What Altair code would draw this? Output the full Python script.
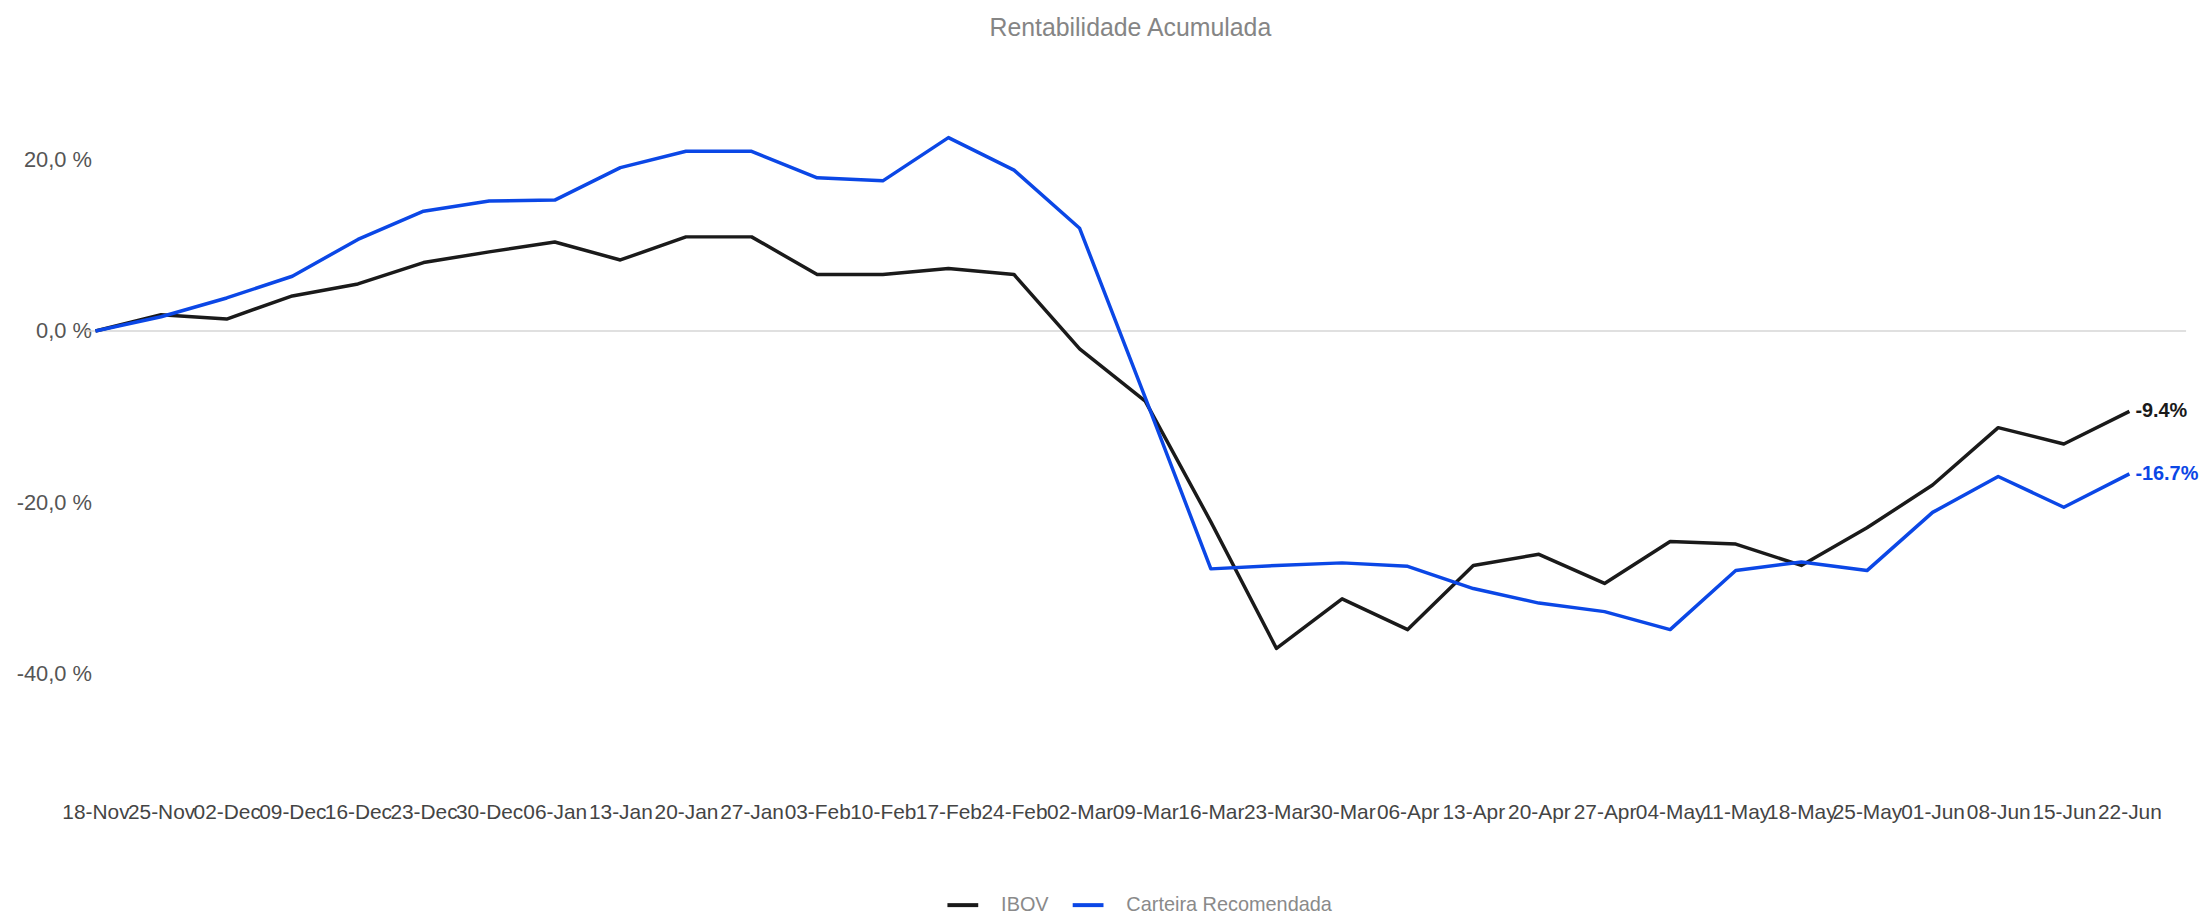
import altair as alt
import pandas as pd

# ---- data ----
dates = ["18-Nov", "25-Nov", "02-Dec", "09-Dec", "16-Dec", "23-Dec", "30-Dec",
         "06-Jan", "13-Jan", "20-Jan", "27-Jan", "03-Feb", "10-Feb", "17-Feb",
         "24-Feb", "02-Mar", "09-Mar", "16-Mar", "23-Mar", "30-Mar", "06-Apr",
         "13-Apr", "20-Apr", "27-Apr", "04-May", "11-May", "18-May", "25-May",
         "01-Jun", "08-Jun", "15-Jun", "22-Jun"]

ibov = [0.0, 1.9, 1.4, 4.1, 5.5, 8.0, 9.25, 10.4, 8.3, 11.0, 11.0, 6.6, 6.6, 7.3,
        6.6, -2.1, -8.2, -22.3, -37.1, -31.3, -34.9, -27.4, -26.1, -29.5, -24.6,
        -24.9, -27.4, -23.0, -18.0, -11.3, -13.2, -9.4]

carteira = [0.0, 1.66, 3.86, 6.4, 10.7, 14.0, 15.2, 15.3, 19.1, 21.0, 21.0, 17.9,
            17.55, 22.6, 18.8, 12.0, -7.8, -27.8, -27.4, -27.1, -27.5, -30.1, -31.8,
            -32.8, -34.9, -28.0, -27.0, -28.0, -21.2, -17.0, -20.6, -16.7]

series_names = ["IBOV", "Carteira Recomendada"]
series_colors = ["#1a1a1a", "#0b47e6"]
y_ticks = [-40, -20, 0, 20]

rows = []
for d, v in zip(dates, ibov):
    rows.append({"date": d, "serie": series_names[0], "value": v})
for d, v in zip(dates, carteira):
    rows.append({"date": d, "serie": series_names[1], "value": v})
df = pd.DataFrame(rows)

last = df[df["date"] == dates[-1]].copy()
last["label"] = last["value"].map(lambda v: f"{v:.1f}%")

W = 2046
H = 723
FONT = "Liberation Sans"

x_enc = alt.X("date:O", sort=dates,
              scale=alt.Scale(type="point", padding=0),
              axis=alt.Axis(title=None, labelAngle=0, ticks=False, domain=False,
                            labelFontSize=21, labelColor="#444444",
                            labelOverlap=False, labelPadding=9, labelFont=FONT))
y_scale = alt.Scale(domain=[-54, 30], nice=False, zero=False)
y_axis = alt.Axis(title=None, values=y_ticks, grid=False, ticks=False, domain=False,
                  labelExpr="replace(replace(format(datum.value, '.1f'), '.', ','), '\u2212', '-') + ' %'",
                  labelFontSize=22, labelColor="#555555", labelPadding=4,
                  labelFont=FONT)
color_scale = alt.Scale(domain=series_names, range=series_colors)

zero_rule = alt.Chart(pd.DataFrame({"y": [0]})).mark_rule(
    color="#d6d6d6", strokeWidth=1.5
).encode(
    y=alt.Y("y:Q", scale=y_scale, axis=y_axis),
    x=alt.value(-10),
    x2=alt.value(W + 57),
)

lines = alt.Chart(df).mark_line(strokeWidth=3.5, strokeJoin="round").encode(
    x=x_enc,
    y=alt.Y("value:Q", scale=y_scale, axis=y_axis),
    color=alt.Color("serie:N", scale=color_scale, sort=series_names,
                    legend=alt.Legend(title=None, orient="none",
                                      legendX=855, legendY=818,
                                      direction="horizontal",
                                      symbolType="stroke", symbolStrokeWidth=4,
                                      symbolSize=960, labelFontSize=20,
                                      labelColor="#8a8a8a", labelFont=FONT,
                                      labelOffset=21, columnPadding=16,
                                      labelLimit=1000, padding=0)),
    detail="serie:N",
)

end_labels = alt.Chart(last).mark_text(
    align="left", baseline="middle", dx=6, fontSize=20, fontWeight="bold", font=FONT
).encode(
    x=x_enc,
    y=alt.Y("value:Q", scale=y_scale, axis=y_axis),
    text="label:N",
    color=alt.Color("serie:N", scale=color_scale, legend=None),
)

chart = alt.layer(zero_rule, lines, end_labels).properties(
    width=W, height=H,
    title=alt.TitleParams("Rentabilidade Acumulada", fontSize=25, color="#858585",
                          font=FONT, fontWeight="normal", anchor="middle",
                          offset=34, dx=18),
    padding={"left": 8, "top": 5, "right": 0, "bottom": 0},
).configure_view(strokeWidth=0, stroke="transparent")

chart.save("out.html", embed_options={"renderer": "svg", "actions": False})
